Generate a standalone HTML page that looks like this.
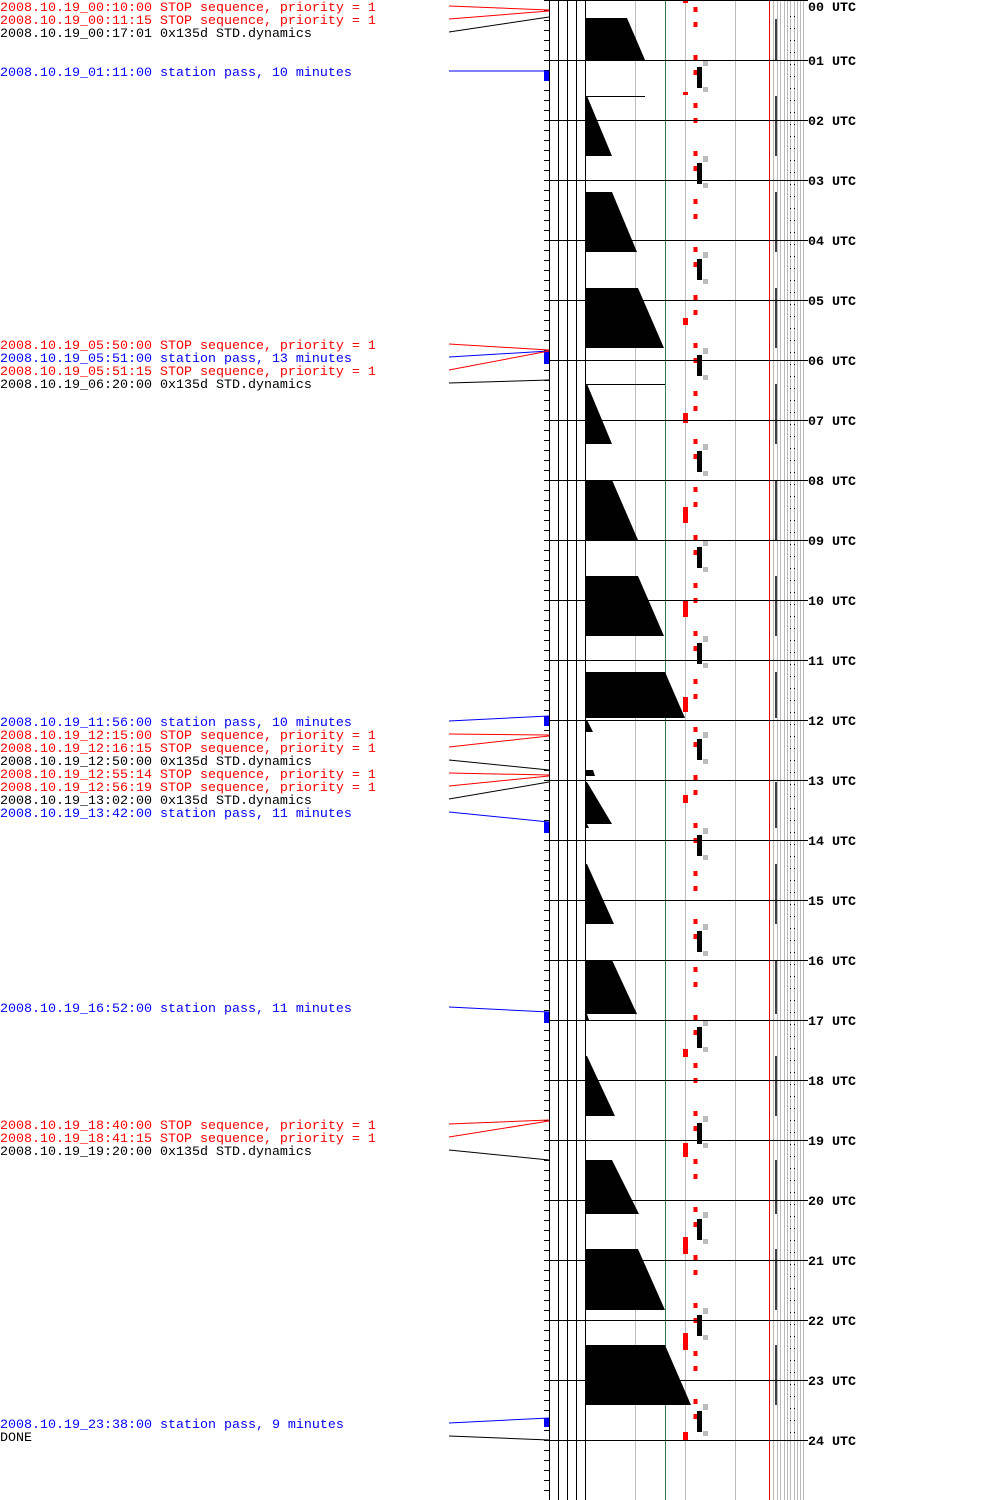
<!DOCTYPE html>
<html><head><meta charset="utf-8"><style>
body{margin:0;background:#fff;width:1000px;height:1500px;overflow:hidden}
svg{display:block}
text{font-family:"Liberation Mono",monospace;font-size:13.33px}
.r{fill:#f00}.b{fill:#00f}.k{fill:#000}
.h{font-weight:bold;fill:#000}
</style></head><body>
<svg width="1000" height="1500" viewBox="0 0 1000 1500" xmlns="http://www.w3.org/2000/svg">
<defs>
<pattern id="dots" x="0" y="0" width="10" height="12" patternUnits="userSpaceOnUse"><rect x="0" y="4" width="1" height="1" fill="#000"/><rect x="4" y="4" width="1" height="1" fill="#000"/></pattern>
</defs>
<line x1="546.5" y1="0" x2="546.5" y2="1500" stroke="#000" stroke-width="5" stroke-dasharray="1 9" stroke-dashoffset="0" shape-rendering="crispEdges"/>
<g stroke="#bbb" stroke-width="1">
<line x1="635.5" y1="0" x2="635.5" y2="1500"/><line x1="685.5" y1="0" x2="685.5" y2="1500"/><line x1="735.5" y1="0" x2="735.5" y2="1500"/>
<line x1="773.5" y1="0" x2="773.5" y2="1500"/><line x1="777.5" y1="0" x2="777.5" y2="1500"/><line x1="780.5" y1="0" x2="780.5" y2="1500"/><line x1="784.5" y1="0" x2="784.5" y2="1500"/><line x1="787.5" y1="0" x2="787.5" y2="1500"/><line x1="790.5" y1="0" x2="790.5" y2="1500"/><line x1="794.5" y1="0" x2="794.5" y2="1500"/><line x1="797.5" y1="0" x2="797.5" y2="1500"/><line x1="800.5" y1="0" x2="800.5" y2="1500"/><line x1="803.5" y1="0" x2="803.5" y2="1500"/>
</g>
<line x1="665.5" y1="0" x2="665.5" y2="1500" stroke="#3a7a50"/>
<line x1="769.5" y1="0" x2="769.5" y2="1500" stroke="#e00"/>
<g stroke="#000" stroke-width="1">
<line x1="549.5" y1="0" x2="549.5" y2="1500"/><line x1="558.5" y1="0" x2="558.5" y2="1500"/><line x1="567.5" y1="0" x2="567.5" y2="1500"/><line x1="576.5" y1="0" x2="576.5" y2="1500"/><line x1="585.5" y1="0" x2="585.5" y2="1500"/>
</g>
<g fill="#000">
<polygon points="585,18 627,18 645,60 585,60"/>
<polygon points="585,96 587,96 612,156 585,156"/>
<polygon points="585,192 612,192 637,252 585,252"/>
<polygon points="585,288 638,288 664,348 585,348"/>
<polygon points="585,384 587,384 612,444 585,444"/>
<polygon points="585,480 612,480 638,540 585,540"/>
<polygon points="585,576 638,576 664,636 585,636"/>
<polygon points="585,672 665,672 685,718 585,718"/>
<polygon points="585,720 587,720 593,732 585,732"/>
<polygon points="585,770 593,770 595,776 585,776"/>
<polygon points="585,782 587,782 612,824 585,824"/>
<polygon points="585,824 587,824 589,828 585,828"/>
<polygon points="585,864 587,864 614,924 585,924"/>
<polygon points="585,960 612,960 637,1014 585,1014"/>
<polygon points="585,1014 587,1014 589,1020 585,1020"/>
<polygon points="585,1056 587,1056 615,1116 585,1116"/>
<polygon points="585,1160 612,1160 639,1214 585,1214"/>
<polygon points="585,1249 638,1249 665,1310 585,1310"/>
<polygon points="585,1345 665,1345 691,1405 585,1405"/>
</g>
<line x1="585" y1="96.5" x2="645" y2="96.5" stroke="#000"/>
<line x1="585" y1="384.5" x2="665" y2="384.5" stroke="#000"/>
<g stroke="#000" stroke-width="1.5">
<line x1="776" y1="19" x2="776" y2="60"/><line x1="776" y1="96" x2="776" y2="156"/><line x1="776" y1="192" x2="776" y2="252"/><line x1="776" y1="288" x2="776" y2="348"/><line x1="776" y1="384" x2="776" y2="444"/><line x1="776" y1="480" x2="776" y2="540"/><line x1="776" y1="576" x2="776" y2="636"/><line x1="776" y1="672" x2="776" y2="718"/><line x1="776" y1="782" x2="776" y2="828"/><line x1="776" y1="864" x2="776" y2="924"/><line x1="776" y1="960" x2="776" y2="1014"/><line x1="776" y1="1056" x2="776" y2="1116"/><line x1="776" y1="1160" x2="776" y2="1214"/><line x1="776" y1="1249" x2="776" y2="1310"/><line x1="776" y1="1345" x2="776" y2="1405"/>
</g>
<rect x="788" y="10" width="8" height="1430" fill="url(#dots)"/>
<line x1="695.5" y1="7" x2="695.5" y2="1440" stroke="#f00" stroke-width="4" stroke-dasharray="5 10 5 28"/>
<g fill="#f00">
<rect x="683" y="0" width="5" height="3"/><rect x="683" y="92" width="5" height="3"/><rect x="683" y="318" width="5" height="7"/><rect x="683" y="413" width="5" height="10"/><rect x="683" y="507" width="5" height="16"/><rect x="683" y="600" width="5" height="17"/><rect x="683" y="697" width="5" height="15"/><rect x="683" y="795" width="5" height="8"/><rect x="683" y="1049" width="5" height="8"/><rect x="683" y="1143" width="5" height="14"/><rect x="683" y="1237" width="5" height="17"/><rect x="683" y="1333" width="5" height="17"/><rect x="683" y="1432" width="5" height="8"/>
</g>
<g fill="#000">
<rect x="697" y="67" width="5" height="21"/><rect x="697" y="163" width="5" height="21"/><rect x="697" y="259" width="5" height="21"/><rect x="697" y="355" width="5" height="21"/><rect x="697" y="451" width="5" height="21"/><rect x="697" y="547" width="5" height="21"/><rect x="697" y="643" width="5" height="21"/><rect x="697" y="739" width="5" height="21"/><rect x="697" y="835" width="5" height="21"/><rect x="697" y="931" width="5" height="21"/><rect x="697" y="1027" width="5" height="21"/><rect x="697" y="1123" width="5" height="21"/><rect x="697" y="1219" width="5" height="21"/><rect x="697" y="1315" width="5" height="21"/><rect x="697" y="1411" width="5" height="21"/>
</g>
<g fill="#bbb">
<rect x="703" y="60" width="5" height="6"/><rect x="703" y="87" width="5" height="5"/>
<rect x="703" y="156" width="5" height="6"/><rect x="703" y="183" width="5" height="5"/>
<rect x="703" y="252" width="5" height="6"/><rect x="703" y="279" width="5" height="5"/>
<rect x="703" y="348" width="5" height="6"/><rect x="703" y="375" width="5" height="5"/>
<rect x="703" y="444" width="5" height="6"/><rect x="703" y="471" width="5" height="5"/>
<rect x="703" y="540" width="5" height="6"/><rect x="703" y="567" width="5" height="5"/>
<rect x="703" y="636" width="5" height="6"/><rect x="703" y="663" width="5" height="5"/>
<rect x="703" y="732" width="5" height="6"/><rect x="703" y="759" width="5" height="5"/>
<rect x="703" y="828" width="5" height="6"/><rect x="703" y="855" width="5" height="5"/>
<rect x="703" y="924" width="5" height="6"/><rect x="703" y="951" width="5" height="5"/>
<rect x="703" y="1020" width="5" height="6"/><rect x="703" y="1047" width="5" height="5"/>
<rect x="703" y="1116" width="5" height="6"/><rect x="703" y="1143" width="5" height="5"/>
<rect x="703" y="1212" width="5" height="6"/><rect x="703" y="1239" width="5" height="5"/>
<rect x="703" y="1308" width="5" height="6"/><rect x="703" y="1335" width="5" height="5"/>
<rect x="703" y="1404" width="5" height="6"/><rect x="703" y="1431" width="5" height="5"/>
</g>
<g stroke="#000" stroke-width="1">
<line x1="549" y1="0.5" x2="808" y2="0.5"/><line x1="549" y1="60.5" x2="808" y2="60.5"/><line x1="549" y1="120.5" x2="808" y2="120.5"/><line x1="549" y1="180.5" x2="808" y2="180.5"/><line x1="549" y1="240.5" x2="808" y2="240.5"/><line x1="549" y1="300.5" x2="808" y2="300.5"/><line x1="549" y1="360.5" x2="808" y2="360.5"/><line x1="549" y1="420.5" x2="808" y2="420.5"/><line x1="549" y1="480.5" x2="808" y2="480.5"/><line x1="549" y1="540.5" x2="808" y2="540.5"/><line x1="549" y1="600.5" x2="808" y2="600.5"/><line x1="549" y1="660.5" x2="808" y2="660.5"/><line x1="549" y1="720.5" x2="808" y2="720.5"/><line x1="549" y1="780.5" x2="808" y2="780.5"/><line x1="549" y1="840.5" x2="808" y2="840.5"/><line x1="549" y1="900.5" x2="808" y2="900.5"/><line x1="549" y1="960.5" x2="808" y2="960.5"/><line x1="549" y1="1020.5" x2="808" y2="1020.5"/><line x1="549" y1="1080.5" x2="808" y2="1080.5"/><line x1="549" y1="1140.5" x2="808" y2="1140.5"/><line x1="549" y1="1200.5" x2="808" y2="1200.5"/><line x1="549" y1="1260.5" x2="808" y2="1260.5"/><line x1="549" y1="1320.5" x2="808" y2="1320.5"/><line x1="549" y1="1380.5" x2="808" y2="1380.5"/><line x1="549" y1="1440.5" x2="808" y2="1440.5"/>
</g>
<g>
<text x="808" y="11" class="h">00 UTC</text><text x="808" y="65" class="h">01 UTC</text><text x="808" y="125" class="h">02 UTC</text><text x="808" y="185" class="h">03 UTC</text><text x="808" y="245" class="h">04 UTC</text><text x="808" y="305" class="h">05 UTC</text><text x="808" y="365" class="h">06 UTC</text><text x="808" y="425" class="h">07 UTC</text><text x="808" y="485" class="h">08 UTC</text><text x="808" y="545" class="h">09 UTC</text><text x="808" y="605" class="h">10 UTC</text><text x="808" y="665" class="h">11 UTC</text><text x="808" y="725" class="h">12 UTC</text><text x="808" y="785" class="h">13 UTC</text><text x="808" y="845" class="h">14 UTC</text><text x="808" y="905" class="h">15 UTC</text><text x="808" y="965" class="h">16 UTC</text><text x="808" y="1025" class="h">17 UTC</text><text x="808" y="1085" class="h">18 UTC</text><text x="808" y="1145" class="h">19 UTC</text><text x="808" y="1205" class="h">20 UTC</text><text x="808" y="1265" class="h">21 UTC</text><text x="808" y="1325" class="h">22 UTC</text><text x="808" y="1385" class="h">23 UTC</text><text x="808" y="1445" class="h">24 UTC</text>
</g>
<g fill="#00f">
<rect x="544" y="71" width="5" height="10"/><rect x="544" y="351" width="5" height="13"/><rect x="544" y="716" width="5" height="10"/><rect x="544" y="822" width="5" height="11"/><rect x="544" y="1012" width="5" height="11"/><rect x="544" y="1418" width="5" height="9"/>
</g>
<g stroke-width="1">
<line x1="449" y1="6" x2="549" y2="10" stroke="#f00"/>
<line x1="449" y1="19" x2="549" y2="11" stroke="#f00"/>
<line x1="449" y1="32" x2="549" y2="17" stroke="#000"/>
<line x1="449" y1="71" x2="549" y2="71" stroke="#00f"/>
<line x1="449" y1="344" x2="549" y2="350" stroke="#f00"/>
<line x1="449" y1="357" x2="549" y2="351" stroke="#00f"/>
<line x1="449" y1="370" x2="549" y2="351" stroke="#f00"/>
<line x1="449" y1="383" x2="549" y2="380" stroke="#000"/>
<line x1="449" y1="721" x2="549" y2="716" stroke="#00f"/>
<line x1="449" y1="734" x2="549" y2="735" stroke="#f00"/>
<line x1="449" y1="747" x2="549" y2="736" stroke="#f00"/>
<line x1="449" y1="760" x2="549" y2="770" stroke="#000"/>
<line x1="449" y1="773" x2="549" y2="775" stroke="#f00"/>
<line x1="449" y1="786" x2="549" y2="776" stroke="#f00"/>
<line x1="449" y1="799" x2="549" y2="782" stroke="#000"/>
<line x1="449" y1="812" x2="549" y2="822" stroke="#00f"/>
<line x1="449" y1="1007" x2="549" y2="1012" stroke="#00f"/>
<line x1="449" y1="1124" x2="549" y2="1120" stroke="#f00"/>
<line x1="449" y1="1137" x2="549" y2="1121" stroke="#f00"/>
<line x1="449" y1="1150" x2="549" y2="1160" stroke="#000"/>
<line x1="449" y1="1423" x2="549" y2="1418" stroke="#00f"/>
<line x1="449" y1="1436" x2="549" y2="1440" stroke="#000"/>
</g>
<text x="0" y="11" class="r">2008.10.19_00:10:00 STOP sequence, priority = 1</text>
<text x="0" y="24" class="r">2008.10.19_00:11:15 STOP sequence, priority = 1</text>
<text x="0" y="37" class="k">2008.10.19_00:17:01 0x135d STD.dynamics</text>
<text x="0" y="76" class="b">2008.10.19_01:11:00 station pass, 10 minutes</text>
<text x="0" y="349" class="r">2008.10.19_05:50:00 STOP sequence, priority = 1</text>
<text x="0" y="362" class="b">2008.10.19_05:51:00 station pass, 13 minutes</text>
<text x="0" y="375" class="r">2008.10.19_05:51:15 STOP sequence, priority = 1</text>
<text x="0" y="388" class="k">2008.10.19_06:20:00 0x135d STD.dynamics</text>
<text x="0" y="726" class="b">2008.10.19_11:56:00 station pass, 10 minutes</text>
<text x="0" y="739" class="r">2008.10.19_12:15:00 STOP sequence, priority = 1</text>
<text x="0" y="752" class="r">2008.10.19_12:16:15 STOP sequence, priority = 1</text>
<text x="0" y="765" class="k">2008.10.19_12:50:00 0x135d STD.dynamics</text>
<text x="0" y="778" class="r">2008.10.19_12:55:14 STOP sequence, priority = 1</text>
<text x="0" y="791" class="r">2008.10.19_12:56:19 STOP sequence, priority = 1</text>
<text x="0" y="804" class="k">2008.10.19_13:02:00 0x135d STD.dynamics</text>
<text x="0" y="817" class="b">2008.10.19_13:42:00 station pass, 11 minutes</text>
<text x="0" y="1012" class="b">2008.10.19_16:52:00 station pass, 11 minutes</text>
<text x="0" y="1129" class="r">2008.10.19_18:40:00 STOP sequence, priority = 1</text>
<text x="0" y="1142" class="r">2008.10.19_18:41:15 STOP sequence, priority = 1</text>
<text x="0" y="1155" class="k">2008.10.19_19:20:00 0x135d STD.dynamics</text>
<text x="0" y="1428" class="b">2008.10.19_23:38:00 station pass, 9 minutes</text>
<text x="0" y="1441" class="k">DONE</text>
</svg>
</body></html>
